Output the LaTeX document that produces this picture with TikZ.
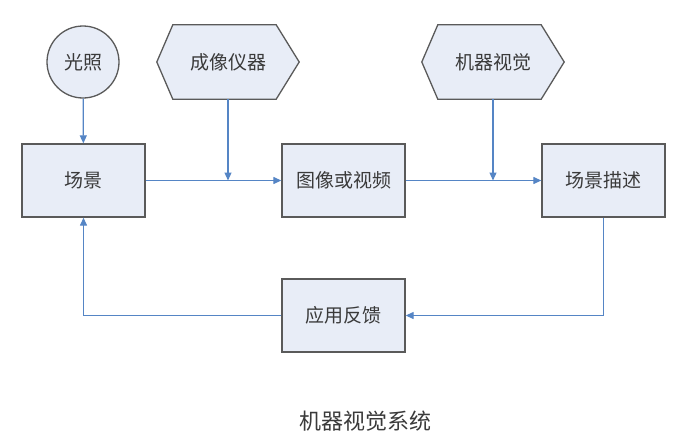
\documentclass[tikz,border=0pt]{standalone}
\usepackage{fontspec}
\setmainfont{Noto Sans CJK SC}
\newfontfamily\cjk{Noto Sans CJK SC}
\usetikzlibrary{arrows.meta,calc}
\definecolor{boxfill}{HTML}{E8EDF7}
\definecolor{boxline}{HTML}{5A5A5A}
\definecolor{lineblue}{HTML}{5585C5}
\definecolor{txt}{HTML}{3A3A3A}
\tikzset{
  box/.style={draw=boxline, line width=1.3pt, fill=boxfill, minimum width=123pt, minimum height=73pt, inner sep=0pt, font=\cjk\fontsize{19}{19}\selectfont, text=txt},
  circ/.style={circle, draw=boxline, line width=1.3pt, fill=boxfill, minimum size=72pt, inner sep=0pt, font=\cjk\fontsize{19}{19}\selectfont, text=txt},
  hexbox/.style={minimum width=142pt, minimum height=74pt, inner sep=0pt, font=\cjk\fontsize{19}{19}\selectfont, text=txt},
  hexline/.style={draw=boxline, line width=1.3pt, fill=boxfill},
  conn/.style={draw=lineblue, line width=1.2pt, -{Triangle[length=8pt,width=7pt]}},
  plain/.style={draw=lineblue, line width=1.2pt}
}
\begin{document}
\begin{tikzpicture}[x=1pt,y=-1pt]
\useasboundingbox (0,0) rectangle (678,442);
% hexagon outlines
\node[hexbox] (cx) at (228,62) {};
\node[hexbox] (jq) at (493,62) {};
\foreach \h in {cx,jq}{
  \path[hexline] (\h.west) -- ($(\h.north west)+(16,0)$) -- ($(\h.north east)+(-23,0)$) -- (\h.east) -- ($(\h.south east)+(-23,0)$) -- ($(\h.south west)+(16,0)$) -- cycle;
}
\node[hexbox] at (cx) {成像仪器};
\node[hexbox] at (jq) {机器视觉};
\node[circ] (gz) at (83,62) {光照};
\node[box] (cj) at (83.5,180.5) {场景};
\node[box] (tx) at (343.5,180.5) {图像或视频};
\node[box] (ms) at (603.5,180.5) {场景描述};
\node[box] (fk) at (343.5,315.5) {应用反馈};
\node[font=\cjk\fontsize{22}{22}\selectfont, text=txt] (cap) at (365,421) {机器视觉系统};
% connectors
\draw[conn] (gz) -- (cj);
\draw[conn] (cj) -- (tx);
\draw[conn] (tx) -- (ms);
\coordinate (m1) at (cx.south |- cj.east);
\coordinate (m2) at (jq.south |- tx.east);
\draw[conn] (cx.south) -- (m1);
\draw[conn] (jq.south) -- (m2);
\draw[conn] (ms.south) |- (fk.east);
\draw[conn] (fk.west) -| (cj.south);
\end{tikzpicture}
\end{document}
